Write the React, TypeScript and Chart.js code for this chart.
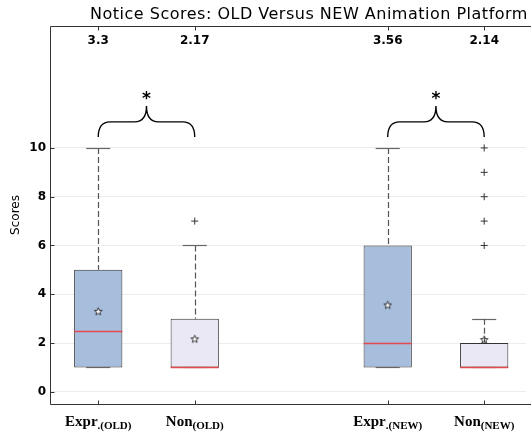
import { useEffect, useRef } from 'react';
import { Chart, registerables } from 'chart.js';

Chart.register(...registerables);

const chartTitle = 'Notice Scores: OLD Versus NEW Animation Platform';
const yAxisTitle = 'Scores';
const categories = ['Expr.(OLD)', 'Non(OLD)', 'Expr.(NEW)', 'Non(NEW)'];
const labelMain = ['Expr', 'Non', 'Expr', 'Non'];
const labelSub = ['.(OLD)', '(OLD)', '.(NEW)', '(NEW)'];
const positions = [1, 2, 4, 5];
const q1 = [1, 1, 1, 1];
const medians = [2.5, 1, 2, 1];
const q3 = [5, 3, 6, 2];
const whiskerLow = [1, 1, 1, 1];
const whiskerHigh = [10, 6, 10, 3];
const means = [3.3, 2.17, 3.56, 2.14];
const meanLabels = ['3.3', '2.17', '3.56', '2.14'];
const fliers: number[][] = [[], [7], [], [6, 7, 8, 9, 10]];
const yTicks = [0, 2, 4, 6, 8, 10];
const sigPairs = [[0, 1], [2, 3]];
const sigMarks = ['*', '*'];

const BOX_COLORS = ['#a7bddc', '#ebe8f5', '#a7bddc', '#ebe8f5'];

function makeStar(): HTMLCanvasElement {
  const c = document.createElement('canvas');
  c.width = 11;
  c.height = 11;
  const ctx = c.getContext('2d')!;
  ctx.beginPath();
  for (let i = 0; i < 10; i++) {
    const r = i % 2 === 0 ? 4 : 1.7;
    const a = -Math.PI / 2 + (i * Math.PI) / 5;
    const px = 5.5 + r * Math.cos(a);
    const py = 5.8 + r * Math.sin(a);
    if (i === 0) ctx.moveTo(px, py);
    else ctx.lineTo(px, py);
  }
  ctx.closePath();
  ctx.fillStyle = '#ffffff';
  ctx.fill();
  ctx.strokeStyle = '#222';
  ctx.lineWidth = 0.9;
  ctx.stroke();
  return c;
}

const extrasPlugin = {
  id: 'boxExtras',
  afterDatasetsDraw(chart: any) {
    const { ctx, chartArea, scales } = chart;
    const x = scales.x;
    const y = scales.y;
    const halfBox = 0.25;
    const halfCap = 0.125;
    ctx.save();

    positions.forEach((p, i) => {
      const cx = Math.round(x.getPixelForValue(p)) + 0.5;
      ctx.strokeStyle = '#555';
      ctx.lineWidth = 1.2;
      ctx.setLineDash([6, 3]);
      ctx.beginPath();
      ctx.moveTo(cx, y.getPixelForValue(whiskerHigh[i]));
      ctx.lineTo(cx, y.getPixelForValue(q3[i]));
      ctx.stroke();
      if (whiskerLow[i] < q1[i]) {
        ctx.beginPath();
        ctx.moveTo(cx, y.getPixelForValue(q1[i]));
        ctx.lineTo(cx, y.getPixelForValue(whiskerLow[i]));
        ctx.stroke();
      }
      ctx.setLineDash([]);
      ctx.strokeStyle = '#666';
      ctx.lineWidth = 1.2;
      [whiskerHigh[i], whiskerLow[i]].forEach((v) => {
        const py = Math.round(y.getPixelForValue(v)) + 0.5;
        ctx.beginPath();
        ctx.moveTo(x.getPixelForValue(p - halfCap), py);
        ctx.lineTo(x.getPixelForValue(p + halfCap), py);
        ctx.stroke();
      });
      ctx.strokeStyle = '#e34a50';
      ctx.lineWidth = 1.3;
      const my = Math.round(y.getPixelForValue(medians[i])) + 0.5;
      ctx.beginPath();
      ctx.moveTo(x.getPixelForValue(p - halfBox), my);
      ctx.lineTo(x.getPixelForValue(p + halfBox), my);
      ctx.stroke();
    });

    ctx.strokeStyle = '#333';
    ctx.lineWidth = 1;
    const L = Math.round(chartArea.left) + 0.5;
    const T = Math.round(chartArea.top) + 0.5;
    const B = Math.round(chartArea.bottom) + 0.5;
    const R = chart.width;
    ctx.beginPath();
    ctx.moveTo(R, T);
    ctx.lineTo(L, T);
    ctx.lineTo(L, B);
    ctx.lineTo(R, B);
    ctx.stroke();
    ctx.beginPath();
    yTicks.forEach((v) => {
      const py = Math.round(y.getPixelForValue(v)) + 0.5;
      ctx.moveTo(L, py);
      ctx.lineTo(L + 4, py);
    });
    positions.forEach((p) => {
      const px = Math.round(x.getPixelForValue(p)) + 0.5;
      ctx.moveTo(px, B);
      ctx.lineTo(px, B - 4);
      ctx.moveTo(px, T);
      ctx.lineTo(px, T + 4);
    });
    ctx.stroke();

    ctx.fillStyle = '#000';
    ctx.font = 'bold 12px "DejaVu Sans"';
    ctx.textAlign = 'center';
    ctx.textBaseline = 'middle';
    positions.forEach((p, i) => {
      ctx.fillText(meanLabels[i], x.getPixelForValue(p), chartArea.top + 15);
    });

    const yEnd = 10.45;
    const yH = 11.07;
    const yTip = 11.72;
    const yMark = 12.1;
    ctx.strokeStyle = '#000';
    ctx.lineWidth = 1.4;
    sigPairs.forEach(([a, b], k) => {
      const x1 = x.getPixelForValue(positions[a]);
      const x2 = x.getPixelForValue(positions[b]);
      const xm = (x1 + x2) / 2;
      const pe = y.getPixelForValue(yEnd);
      const ph = y.getPixelForValue(yH);
      const pt = y.getPixelForValue(yTip);
      const r = 12;
      ctx.beginPath();
      ctx.moveTo(x1, pe);
      ctx.quadraticCurveTo(x1, ph, x1 + r, ph);
      ctx.lineTo(xm - r, ph);
      ctx.quadraticCurveTo(xm, ph, xm, pt);
      ctx.quadraticCurveTo(xm, ph, xm + r, ph);
      ctx.lineTo(x2 - r, ph);
      ctx.quadraticCurveTo(x2, ph, x2, pe);
      ctx.stroke();
      ctx.font = 'bold 17px "DejaVu Sans"';
      ctx.textBaseline = 'middle';
      ctx.fillText(sigMarks[k], xm, y.getPixelForValue(yMark) + 3);
    });

    ctx.textAlign = 'left';
    ctx.textBaseline = 'alphabetic';
    positions.forEach((p, i) => {
      const cx = x.getPixelForValue(p);
      ctx.font = 'bold 15px "Liberation Serif"';
      const w1 = ctx.measureText(labelMain[i]).width;
      ctx.font = 'bold 11px "Liberation Serif"';
      const w2 = ctx.measureText(labelSub[i]).width;
      const sx = cx - (w1 + w2) / 2;
      ctx.font = 'bold 15px "Liberation Serif"';
      ctx.fillText(labelMain[i], sx, chartArea.bottom + 22);
      ctx.font = 'bold 11px "Liberation Serif"';
      ctx.fillText(labelSub[i], sx + w1, chartArea.bottom + 25);
    });

    ctx.font = '16px "DejaVu Sans"';
    (ctx as any).letterSpacing = '0.5px';
    ctx.textAlign = 'center';
    ctx.textBaseline = 'middle';
    ctx.fillText(chartTitle, 309, 15);
    (ctx as any).letterSpacing = '0px';

    ctx.save();
    ctx.translate(16, (chartArea.top + chartArea.bottom) / 2);
    ctx.rotate(-Math.PI / 2);
    ctx.font = '12px "DejaVu Sans"';
    ctx.fillText(yAxisTitle, 0, 0);
    ctx.restore();

    ctx.restore();
  },
};

export default function App() {
  const ref = useRef<HTMLCanvasElement | null>(null);
  useEffect(() => {
    if (!ref.current) return;
    const star = makeStar();
    const chart = new Chart(ref.current, {
      type: 'bar',
      data: {
        datasets: [
          {
            type: 'bar',
            label: 'boxes',
            data: positions.map((p, i) => ({ x: p, y: [q1[i], q3[i]] })) as any,
            backgroundColor: BOX_COLORS,
            borderColor: '#333',
            borderWidth: 1,
            borderSkipped: false,
            barPercentage: 0.5,
            categoryPercentage: 1,
            order: 3,
          } as any,
          {
            type: 'scatter',
            label: 'fliers',
            data: fliers.flatMap((arr, i) => arr.map((v) => ({ x: positions[i], y: v }))),
            pointStyle: 'cross',
            pointRadius: 3.5,
            borderColor: '#333',
            borderWidth: 1,
            order: 1,
          } as any,
          {
            type: 'scatter',
            label: 'means',
            data: positions.map((p, i) => ({ x: p, y: means[i] })),
            pointStyle: star,
            pointRadius: 4,
            order: 0,
          } as any,
        ],
      },
      options: {
        animation: false,
        responsive: false,
        devicePixelRatio: 1,
        layout: { padding: { left: 0, right: -5, top: 26, bottom: 0 } },
        plugins: { legend: { display: false }, tooltip: { enabled: false }, title: { display: false } },
        scales: {
          x: {
            type: 'linear',
            min: 0.5,
            max: 0.5 + 481 / 97.5,
            offset: false,
            grid: { display: false, drawTicks: false },
            border: { display: false },
            ticks: { display: false },
            afterBuildTicks: (s: any) => {
              s.ticks = positions.map((v) => ({ value: v }));
            },
            afterFit: (s: any) => {
              s.height = 32;
              s.paddingLeft = 0;
              s.paddingRight = 0;
            },
          },
          y: {
            type: 'linear',
            min: -0.5,
            max: 15,
            grid: { color: '#ececec', lineWidth: 1, drawTicks: false },
            border: { display: false },
            ticks: {
              padding: 4,
              color: '#000',
              font: { family: 'DejaVu Sans', size: 12, weight: 'bold' },
            },
            afterBuildTicks: (s: any) => {
              s.ticks = yTicks.map((v) => ({ value: v }));
            },
            afterFit: (s: any) => {
              s.width = 50;
              s.paddingTop = 0;
              s.paddingBottom = 0;
            },
          },
        },
      } as any,
      plugins: [extrasPlugin],
    });
    return () => chart.destroy();
  }, []);
  return (
    <div style={{ position: 'fixed', left: 0, top: 0, width: 531, height: 436, background: '#fff' }}>
      <canvas ref={ref} width={531} height={436} aria-label={categories.join(', ')} />
    </div>
  );
}
